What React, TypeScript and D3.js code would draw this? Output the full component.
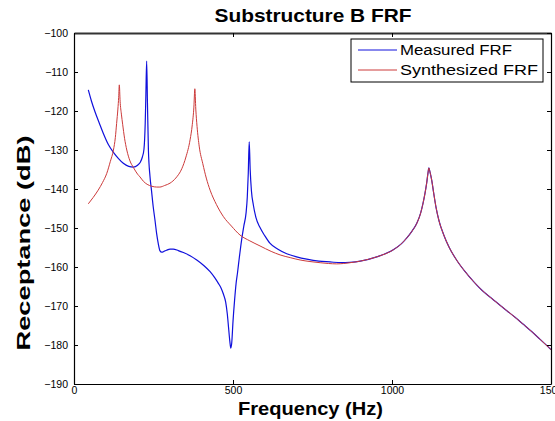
import React, { useRef, useEffect } from "react";
import * as d3 from "d3";

// Measured FRF (blue)
const measuredFreq = [45, 55, 66, 80, 92, 108, 124, 140, 155, 172, 187, 200, 208, 215, 220, 224, 226, 228.5, 231, 234, 239, 244, 249, 255, 260, 265, 270, 276, 283, 291, 302, 312, 328, 344, 365, 386, 408, 428, 443, 454, 462, 470, 477, 482, 486, 490, 493, 496, 500, 505, 510, 514, 520, 527, 534, 541, 545, 548, 551, 554, 558, 564, 572, 585, 600, 616, 640, 669, 700, 732, 770, 805, 840, 868];
const measuredDb = [-114.6, -117.5, -120.2, -123.2, -125.7, -128.6, -130.6, -132.2, -133.4, -134.2, -134.4, -133.9, -133.2, -131.8, -129.8, -123, -116, -107.2, -118, -130, -136.8, -140.6, -144.5, -148.2, -151.5, -154, -155.8, -156.2, -156, -155.7, -155.4, -155.4, -155.8, -156.3, -157.1, -158.2, -159.6, -161.2, -162.8, -164.2, -165.3, -167, -169, -172, -175.5, -179, -180.8, -179.5, -174, -168.5, -164, -161.6, -157.5, -153.1, -149.5, -146.2, -142, -136, -127.9, -135, -140.5, -144.1, -147.3, -149.9, -152, -153.9, -155.4, -156.6, -157.4, -158, -158.5, -158.7, -158.9, -158.8];

// Synthesized FRF (red)
const synthFreq = [45, 60, 76, 90, 103, 114, 124, 130, 134, 138, 140.5, 142.5, 145, 149, 153, 159, 166, 176, 187, 200, 207.5, 218, 230, 245, 260, 270, 285, 302, 320, 339, 352, 365, 372, 377, 380, 383, 387, 394, 405, 416, 428, 448, 470, 495, 522, 553, 585, 620, 648, 680, 711, 742, 774, 800, 826, 848, 868];
const synthDb = [-143.8, -142.2, -140.3, -138.3, -136, -133, -130, -126.8, -123.2, -119.5, -116.5, -113.3, -117.5, -120.8, -123.4, -127, -130, -132.8, -134.5, -136.2, -136.9, -138, -138.8, -139.3, -139.5, -139.5, -139.1, -138.5, -137.2, -134.8, -131.8, -127.4, -123.5, -119, -114.3, -119.5, -124, -129.2, -133.5, -137.2, -140.3, -144, -147.1, -149.5, -151.8, -153.3, -154.6, -156, -156.9, -157.6, -158.2, -158.6, -158.9, -159.1, -159.2, -159.1, -158.9];

// above ~870 Hz both curves lie on top of each other
const tailFreq = [900, 952, 1004, 1030, 1046, 1063, 1078, 1090, 1098, 1104, 1109, 1113, 1116, 1119, 1125, 1131, 1138, 1148, 1161, 1180, 1203, 1230, 1256, 1282, 1308, 1335, 1361, 1387, 1413, 1440, 1465, 1495, 1500];
const tailDb = [-158.5, -157.4, -155.6, -154, -152.6, -150.8, -148.8, -146.2, -143.5, -141, -138.5, -136, -134.6, -135.5, -137.8, -141, -144.5, -148.2, -151.4, -155, -158.2, -161.2, -163.7, -165.9, -167.7, -169.5, -171.2, -172.9, -174.7, -176.6, -178.5, -180.8, -181.2];

const xTicks = [0, 500, 1000, 1500];
const yTicks = [-190, -180, -170, -160, -150, -140, -130, -120, -110, -100];
const seriesNames = ["Measured FRF", "Synthesized FRF"];

const App = () => {
    const ref = useRef<SVGSVGElement>(null);

    useEffect(() => {
        const svgWidth = 555;
        const svgHeight = 421;
        const left = 74, right = 551, top = 33, bottom = 384;
        const font = "'Liberation Sans', Arial, Helvetica, sans-serif";
        const blue = "#1010dc";
        const red = "#cc3a3a";

        const svg = d3.select(ref.current)
            .attr("width", svgWidth)
            .attr("height", svgHeight);
        svg.selectAll("*").remove();

        const xScale = d3.scaleLinear().domain([0, 1500]).range([left, right]);
        const yScale = d3.scaleLinear().domain([-190, -100]).range([bottom, top]);

        // curves
        const toPoints = (fs: number[], ds: number[]) => fs.map((f, i) => ({ f, db: ds[i] }));
        const tail = toPoints(tailFreq, tailDb);
        const measured = toPoints(measuredFreq, measuredDb).concat(tail);
        const synth = toPoints(synthFreq, synthDb).concat(tail);

        const line = d3.line<{ f: number; db: number }>()
            .x(d => xScale(d.f))
            .y(d => yScale(d.db))
            .curve(d3.curveMonotoneX);

        svg.append("path")
            .datum(measured)
            .attr("fill", "none")
            .attr("stroke", blue)
            .attr("stroke-width", 1.2)
            .attr("d", line);

        svg.append("path")
            .datum(synth)
            .attr("fill", "none")
            .attr("stroke", red)
            .attr("stroke-width", 1)
            .attr("d", line);

        // axes, ticks pointing inward like matlab
        const styleAxis = (g: any) => {
            g.select(".domain").attr("stroke", "#000").attr("stroke-width", 1.2);
            g.selectAll(".tick line").attr("stroke", "#000");
            g.selectAll(".tick text")
                .attr("fill", "#000")
                .style("font-family", font)
                .style("font-size", "10.5px");
        };

        svg.append("g")
            .attr("transform", `translate(0,${bottom})`)
            .call(d3.axisBottom(xScale).tickValues(xTicks).tickSizeInner(-4).tickSizeOuter(0).tickPadding(3).tickFormat(d3.format("d")))
            .call(styleAxis);

        svg.append("g")
            .attr("transform", `translate(${left},0)`)
            .call(d3.axisLeft(yScale).tickValues(yTicks).tickSizeInner(-4).tickSizeOuter(0).tickPadding(6).tickFormat(d3.format("d")))
            .call(styleAxis);

        svg.append("g")
            .attr("transform", `translate(0,${top})`)
            .call(d3.axisTop(xScale).tickValues(xTicks).tickSizeInner(-4).tickSizeOuter(0).tickFormat(() => ""))
            .call(styleAxis)
            .select(".domain").attr("stroke", "#333").attr("stroke-width", 2);

        svg.append("g")
            .attr("transform", `translate(${right},0)`)
            .call(d3.axisRight(yScale).tickValues(yTicks).tickSizeInner(-4).tickSizeOuter(0).tickFormat(() => ""))
            .call(styleAxis);

        // title and axis labels
        svg.append("text")
            .attr("x", 313)
            .attr("y", 22)
            .attr("text-anchor", "middle")
            .attr("textLength", 197)
            .attr("lengthAdjust", "spacingAndGlyphs")
            .style("font-family", font)
            .style("font-weight", "bold")
            .style("font-size", "18px")
            .text("Substructure B FRF");

        svg.append("text")
            .attr("x", 310.5)
            .attr("y", 415)
            .attr("text-anchor", "middle")
            .attr("textLength", 145)
            .attr("lengthAdjust", "spacingAndGlyphs")
            .style("font-family", font)
            .style("font-weight", "bold")
            .style("font-size", "18px")
            .text("Frequency (Hz)");

        svg.append("text")
            .attr("transform", `translate(30,243) rotate(-90)`)
            .attr("text-anchor", "middle")
            .attr("textLength", 215)
            .attr("lengthAdjust", "spacingAndGlyphs")
            .style("font-family", font)
            .style("font-weight", "bold")
            .style("font-size", "18px")
            .text("Receptance (dB)");

        // legend
        const legend = svg.append("g");
        legend.append("rect")
            .attr("x", 351)
            .attr("y", 39)
            .attr("width", 192)
            .attr("height", 43)
            .attr("fill", "#fff")
            .attr("stroke", "#000")
            .attr("stroke-width", 1);

        const legendColors = [blue, red];
        const legendWidths = [112, 138];
        seriesNames.forEach((name, i) => {
            const y = 50 + i * 20;
            legend.append("line")
                .attr("x1", 358)
                .attr("x2", 397)
                .attr("y1", y)
                .attr("y2", y)
                .attr("stroke", legendColors[i])
                .attr("stroke-width", 1);
            legend.append("text")
                .attr("x", 400)
                .attr("y", y + 4.5)
                .attr("textLength", legendWidths[i])
                .attr("lengthAdjust", "spacingAndGlyphs")
                .style("font-family", font)
                .style("font-size", "14px")
                .text(name);
        });
    }, []);

    return (
        <div style={{ position: "absolute", left: 0, top: 0 }}>
            <svg ref={ref}></svg>
        </div>
    );
};

export default App;
